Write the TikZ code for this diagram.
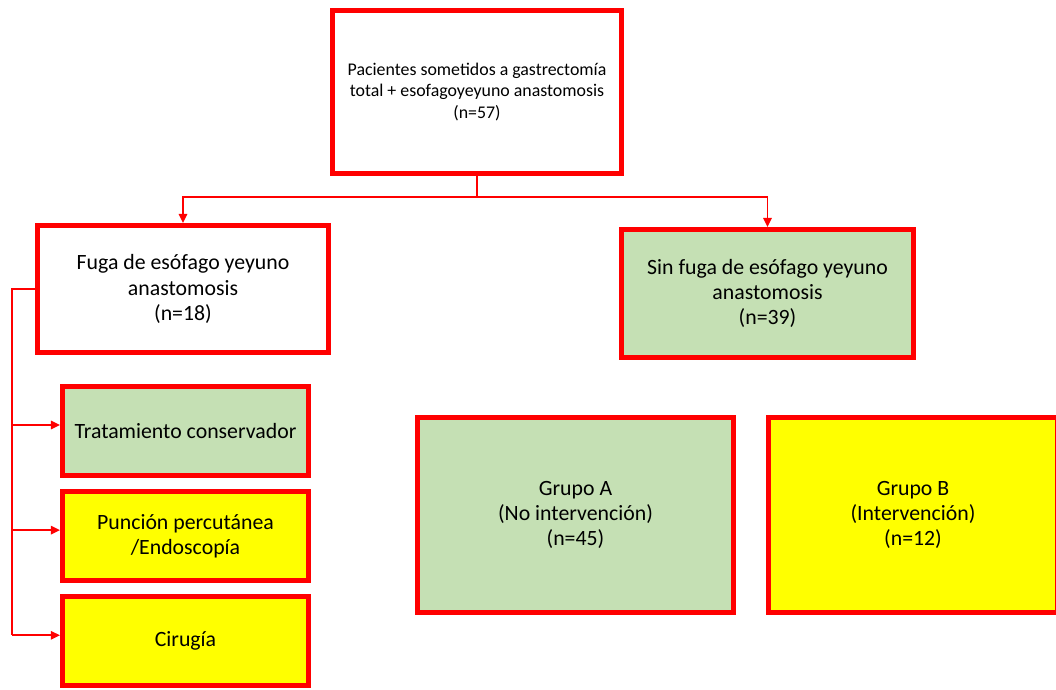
\documentclass[tikz,border=0pt]{standalone}
\usepackage{fontspec}
\setmainfont{Carlito}
\usepackage{tikz}
\usetikzlibrary{positioning}
\usetikzlibrary{arrows.meta}
\definecolor{boxred}{HTML}{FF0000}
\definecolor{boxgreen}{HTML}{C5E0B4}
\definecolor{boxyellow}{HTML}{FFFF00}
\newlength{\vgap}
\tikzstyle{box}=[draw=boxred, rectangle, line width=3.5pt, align=center, inner sep=0pt, font=\fontsize{15.5}{18}\selectfont]
\tikzstyle{plainbox}=[box, fill=white]
\tikzstyle{okbox}=[box, fill=boxgreen]
\tikzstyle{actbox}=[box, fill=boxyellow]
\tikzstyle{treat}=[minimum width=6.15cm, minimum height=2.225cm]

\begin{document}
\begin{tikzpicture}[x=0.025cm, y=-0.025cm, draw=boxred, line width=1.2pt, -{Triangle[length=6.5pt, width=6pt]}]

				\setlength{\vgap}{0.28cm}
				\useasboundingbox (0,0) rectangle (1056,689);

				\node (top) [plainbox, minimum width=7.225cm, minimum height=4.075cm, font=\fontsize{12.7}{15.5}\selectfont] at (477,92) {Pacientes sometidos a gastrectomía\\total + esofagoyeyuno anastomosis\\(n=57)};
				\node (fuga) [plainbox, minimum width=7.275cm, minimum height=3.175cm] at (183,289) {Fuga de esófago yeyuno\\anastomosis\\(n=18)};
				\node (sin) [okbox, minimum width=7.3cm, minimum height=3.2cm] at (767.5,293.5) {Sin fuga de esófago yeyuno\\anastomosis\\(n=39)};

				\node (trat) [okbox, treat] at (185.5,431) {Tratamiento conservador};
				\node (punc) [actbox, treat, below=\vgap of trat] {Punción percutánea\\/Endoscopía};
				\node (cir) [actbox, treat, below=\vgap of punc] {Cirugía};

				\node (grpA) [okbox, minimum width=7.9cm, minimum height=4.875cm] at (575.5,515) {Grupo A\\(No intervención)\\(n=45)};
				\node (grpB) [actbox, minimum width=7.225cm, minimum height=4.875cm] at (913,515) {Grupo B\\(Intervención)\\(n=12)};

				\coordinate (split) at (477,197);
				\coordinate (bus) at (12,0);

				\draw [-] (top) to (split);
				\draw (split) -| (fuga);
				\draw (split) -| (sin);
				\draw [-] (fuga.west) -- (bus |- fuga.west) -- ([yshift=0.15cm]bus |- cir.west);
				\foreach \n in {trat,punc,cir}
					\draw ([yshift=0.15cm]bus |- \n.west) -- ([yshift=0.15cm]\n.west);
\end{tikzpicture}
\end{document}
